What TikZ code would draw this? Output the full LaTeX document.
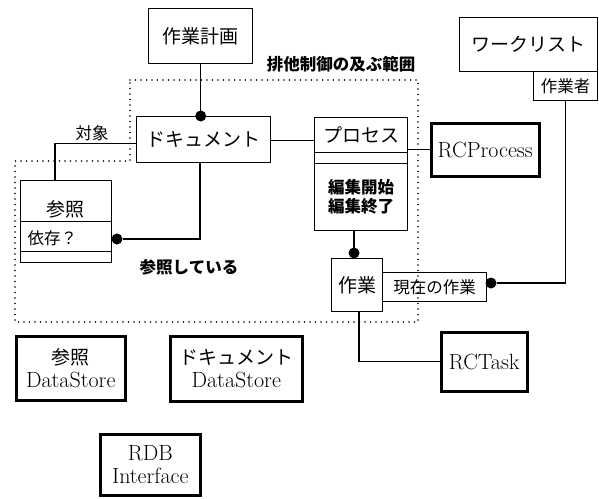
\documentclass[tikz,border=0pt]{standalone}
\usepackage{fontspec}
\newfontfamily\jp{Noto Sans CJK JP}
\begin{document}
\begin{tikzpicture}[x=1pt,y=-1pt,
  box/.style={draw, line width=1.4pt, inner sep=0pt, anchor=north west},
  heavy/.style={draw, line width=3.5pt, inner sep=0pt, anchor=north west},
  conn/.style={line width=1.4pt},
  dot/.style={circle, fill, inner sep=0pt, minimum size=11pt},
  region/.style={line width=1.8pt, line cap=round, dash pattern=on 0pt off 5.5pt},
  jl/.style={font=\jp\fontsize{19}{22}\selectfont},
  js/.style={font=\jp\fontsize{16.5}{19}\selectfont},
  jb/.style={font=\jp\bfseries\fontsize{16.5}{19}\selectfont},
  lat/.style={font=\fontsize{22}{23}\selectfont, align=center}]
\useasboundingbox (0,0) rectangle (599,498);

% dotted region
\draw[region] (130,80) -- (418,80) -- (418,322) -- (15,322) -- (15,161) -- (130,161) -- cycle;
\node[jb] (rangelbl) at (341,64) {排他制御の及ぶ範囲};

% boxes
\node[box, minimum width=104pt, minimum height=55pt, jl] (plan) at (148,8) {作業計画};
\node[box, minimum width=134pt, minimum height=46pt, jl] (doc) at (136,116) {ドキュメント};

\node[box, minimum width=91pt, minimum height=41pt] (refname) at (20,180) {};
\node[jl] (reflbl) at (65.5,209) {参照};
\node[box, minimum width=91pt, minimum height=30pt] (refattr) at (20,221) {};
\node[js, anchor=west] (deplbl) at (24,238) {依存？};
\node[box, minimum width=91pt, minimum height=11pt] (refempty) at (20,251) {};

\node[box, minimum width=93pt, minimum height=35pt, jl] (procname) at (314,117) {プロセス};
\node[box, minimum width=93pt, minimum height=11pt] (procempty) at (314,152) {};
\node[box, minimum width=93pt, minimum height=67pt, jb, align=center] (procops) at (314,163) {編集開始\\編集終了};

\node[heavy, minimum width=108pt, minimum height=53pt, lat] (rcp) at (429.5,121.5) {RCProcess};

\node[box, minimum width=138pt, minimum height=54pt, jl] (wl) at (459,17) {\raisebox{-3pt}{ワークリスト}};
\node[box, minimum width=64pt, minimum height=29pt, js] (worker) at (533,71) {作業者};

\node[box, minimum width=51pt, minimum height=53pt, jl] (task) at (331,258) {作業};
\node[box, minimum width=104pt, minimum height=29pt, js] (qual) at (382,272) {\raisebox{-3pt}{現在の作業}};

\node[heavy, minimum width=86pt, minimum height=59pt, lat] (rctask) at (439.5,330.5) {RCTask};

\node[heavy, minimum width=109pt, minimum height=64pt, lat] (refds) at (14.5,334.5) {{\jp\fontsize{19}{22}\selectfont 参照}\\DataStore};
\node[heavy, minimum width=132pt, minimum height=65pt, lat] (docds) at (168.5,334.5) {{\jp\fontsize{19}{22}\selectfont ドキュメント}\\DataStore};
\node[draw, line width=2.5pt, inner sep=0pt, anchor=north west, minimum width=100pt, minimum height=61pt, lat] (rdb) at (99,433) {RDB\\Interface};

% labels
\node[js] (objlbl) at (92,133) {対象};
\node[jb] (reflink) at (189,267) {参照している};

% connectors
\draw[conn] (plan.south) -- (plan.south |- doc.north) node[dot] (d1) {};
\draw[conn] ([yshift=-4pt]doc.west) -| (55,180);
\node[dot] (d2) at (117,239) {};
\draw[conn] (d2) -| (200,162);
\draw[conn] ([yshift=-1pt]doc.east) -- ([yshift=-1pt]doc.east -| procname.west);
\draw[conn] (rcp.west -| procname.east) -- (rcp.west);
\draw[conn] (354,230) -- (354,253) node[dot] (d3) {};
\node[dot] (d4) at (491,283) {};
\draw[conn] (worker.south) |- (d4);
\draw[conn] (359,311) |- (rctask.west);
\end{tikzpicture}
\end{document}
